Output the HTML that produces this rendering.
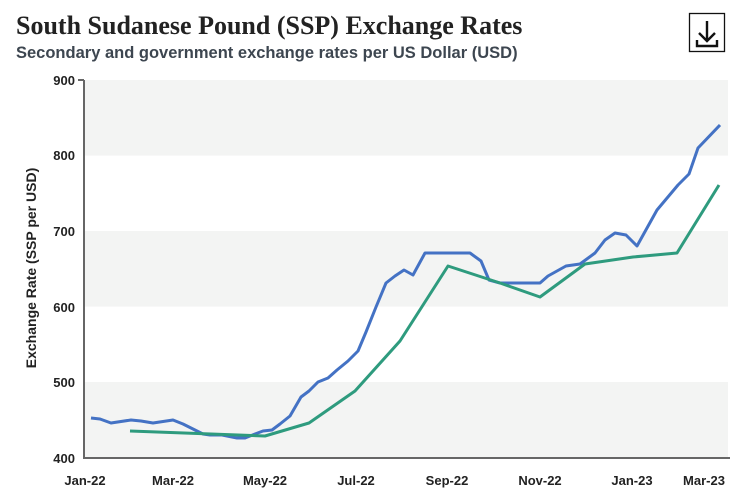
<!DOCTYPE html>
<html><head><meta charset="utf-8"><style>
body{margin:0;background:#fff;width:743px;height:495px;overflow:hidden;font-family:"Liberation Sans",sans-serif}
</style></head><body>
<svg width="743" height="495" xmlns="http://www.w3.org/2000/svg">
<text x="16" y="34" font-family="Liberation Serif,serif" font-weight="bold" font-size="26" fill="#222">South Sudanese Pound (SSP) Exchange Rates</text>
<text x="16" y="58" font-family="Liberation Sans,sans-serif" font-weight="bold" font-size="16.5" fill="#3d4650">Secondary and government exchange rates per US Dollar (USD)</text>
<rect x="689.5" y="13.5" width="35" height="38" fill="#fff" stroke="#111" stroke-width="1.3"/>
<path d="M707 21 V41 M699 33 L707 41 L715 33 M697 40 V46 H717 V40" fill="none" stroke="#111" stroke-width="2.4"/>
<g fill="#f3f4f3">
<rect x="84" y="80" width="644" height="75.6"/>
<rect x="84" y="231" width="644" height="75.6"/>
<rect x="84" y="382" width="644" height="75.6"/>
</g>
<g stroke="#666" stroke-width="2" fill="none">
<path d="M84 80 V458 H730"/>
<path d="M78 80 H84"/>
</g>
<g font-size="13" font-weight="bold" fill="#222" text-anchor="end">
<text x="75" y="85">900</text><text x="75" y="160">800</text><text x="75" y="236">700</text>
<text x="75" y="312">600</text><text x="75" y="387">500</text><text x="75" y="463">400</text>
</g>
<g font-size="13" font-weight="bold" fill="#222" text-anchor="middle">
<text x="85" y="485">Jan-22</text><text x="173" y="485">Mar-22</text><text x="265" y="485">May-22</text>
<text x="356" y="485">Jul-22</text><text x="447" y="485">Sep-22</text><text x="540" y="485">Nov-22</text>
<text x="632" y="485">Jan-23</text><text x="704" y="485">Mar-23</text>
</g>
<text transform="translate(36,268) rotate(-90)" font-size="14" font-weight="bold" fill="#222" text-anchor="middle">Exchange Rate (SSP per USD)</text>
<polyline fill="none" stroke="#4472c4" stroke-width="3" stroke-linejoin="round" points="91,418 100,419 111,423 131,420 141,421 153,423 173,420 183,424 193,429 203,434 210,435 222,435 237,438 245,438 255,434 263,431 272,430 280,424 290,416 301,397 309,391 318,382 328,378 337,370 348,361 358,351 366,332 376,307 386,283 395,276 404,270 413,275 425,253 470,253 481,261 489,280 500,283 540,283 548,276 566,266 580,264 595,253 605,240 615,233 626,235 637,246 657,210 678,185 689,174 698,148 720,125"/>
<polyline fill="none" stroke="#2e9b7e" stroke-width="3" stroke-linejoin="round" points="130,431 265,436 309,423 355,391 400,341 448,266 500,283 540,297 585,264 633,257 677,253 719,185"/>
</svg>
</body></html>
